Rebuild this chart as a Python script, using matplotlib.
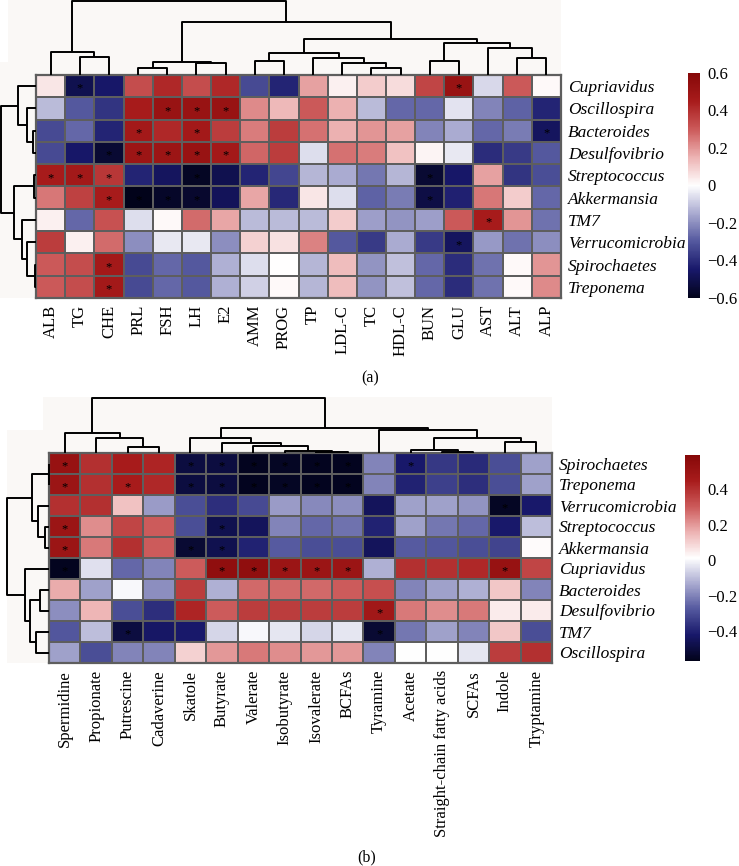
import numpy as np
import matplotlib
matplotlib.use('Agg')
import matplotlib.pyplot as plt
from matplotlib.colors import LinearSegmentedColormap, Normalize
from matplotlib.patches import Rectangle
from matplotlib.cm import ScalarMappable

# ---------------- data: panel (a) ----------------
genera_a = ['Cupriavidus', 'Oscillospira', 'Bacteroides', 'Desulfovibrio', 'Streptococcus',
            'Akkermansia', 'TM7', 'Verrucomicrobia', 'Spirochaetes', 'Treponema']
markers_a = ['ALB', 'TG', 'CHE', 'PRL', 'FSH', 'LH', 'E2', 'AMM', 'PROG', 'TP',
             'LDL-C', 'TC', 'HDL-C', 'BUN', 'GLU', 'AST', 'ALT', 'ALP']
values_a = [
    [0.05, -0.50, -0.45, 0.33, 0.42, 0.33, 0.42, -0.33, -0.42, 0.18, 0.03, 0.10, 0.07, 0.35, 0.52, -0.07, 0.30, 0.01],
    [-0.12, -0.30, -0.38, 0.45, 0.52, 0.52, 0.52, 0.22, 0.14, 0.30, 0.15, -0.12, -0.27, -0.27, -0.05, -0.22, -0.28, -0.42],
    [-0.33, -0.27, -0.42, 0.47, 0.42, 0.47, 0.37, 0.24, 0.37, 0.26, 0.15, 0.20, 0.18, -0.22, -0.15, -0.27, -0.23, -0.47],
    [-0.33, -0.45, -0.55, 0.50, 0.50, 0.52, 0.47, 0.28, 0.37, -0.06, 0.26, 0.24, 0.12, 0.02, -0.04, -0.40, -0.37, -0.30],
    [0.45, 0.47, 0.38, -0.42, -0.47, -0.58, -0.50, -0.42, -0.34, -0.13, -0.15, -0.24, -0.13, -0.55, -0.45, 0.18, -0.38, -0.32],
    [0.25, 0.36, 0.45, -0.60, -0.57, -0.56, -0.48, 0.17, -0.41, 0.05, -0.06, -0.28, -0.23, -0.52, -0.43, 0.25, 0.10, -0.27],
    [0.03, -0.27, 0.32, -0.06, 0.01, 0.27, 0.17, -0.12, -0.12, -0.12, 0.10, -0.17, -0.19, -0.17, 0.30, 0.45, 0.20, -0.25],
    [0.37, 0.03, 0.27, -0.20, -0.04, -0.04, -0.20, 0.09, 0.06, 0.23, -0.30, -0.37, -0.15, -0.37, -0.47, -0.18, -0.25, -0.20],
    [0.30, 0.33, 0.47, -0.33, -0.27, -0.30, -0.14, -0.06, 0.00, -0.13, 0.13, -0.19, -0.11, -0.27, -0.40, -0.25, 0.01, 0.20],
    [0.30, 0.33, 0.47, -0.33, -0.27, -0.30, -0.14, -0.08, 0.01, -0.13, 0.13, -0.19, -0.11, -0.27, -0.40, -0.25, 0.01, 0.22],
]
sig_a = {
    'Cupriavidus': ['TG', 'GLU'],
    'Oscillospira': ['FSH', 'LH', 'E2'],
    'Bacteroides': ['PRL', 'LH', 'ALP'],
    'Desulfovibrio': ['CHE', 'PRL', 'FSH', 'LH', 'E2'],
    'Streptococcus': ['ALB', 'TG', 'CHE', 'LH', 'BUN'],
    'Akkermansia': ['CHE', 'PRL', 'FSH', 'LH', 'BUN'],
    'TM7': ['AST'],
    'Verrucomicrobia': ['GLU'],
    'Spirochaetes': ['CHE'],
    'Treponema': ['CHE'],
}
# dendrogram merges: (child, child, height); ints refer to earlier merges
col_tree_a = [('TG', 'CHE', 18), ('ALB', 0, 23), ('PRL', 'FSH', 7), ('LH', 'E2', 12), (2, 3, 13),
              ('AMM', 'PROG', 14), ('TC', 'HDL-C', 7), ('LDL-C', 6, 12), ('TP', 7, 17), (5, 8, 22),
              ('BUN', 'GLU', 14), ('ALT', 'ALP', 17), ('AST', 11, 27), (10, 12, 32), (9, 13, 36),
              (4, 14, 53), (1, 15, 74)]
row_tree_a = [('Bacteroides', 'Desulfovibrio', 3), ('Oscillospira', 0, 9), ('Cupriavidus', 1, 18),
              ('Streptococcus', 'Akkermansia', 2), ('Spirochaetes', 'Treponema', 1),
              ('Verrucomicrobia', 4, 9), ('TM7', 5, 14), (3, 6, 22), (2, 7, 35)]
ticks_a = [0.6, 0.4, 0.2, 0, -0.2, -0.4, -0.6]

# ---------------- data: panel (b) ----------------
genera_b = ['Spirochaetes', 'Treponema', 'Verrucomicrobia', 'Streptococcus', 'Akkermansia',
            'Cupriavidus', 'Bacteroides', 'Desulfovibrio', 'TM7', 'Oscillospira']
metabolites_b = ['Spermidine', 'Propionate', 'Putrescine', 'Cadaverine', 'Skatole', 'Butyrate',
                 'Valerate', 'Isobutyrate', 'Isovalerate', 'BCFAs', 'Tyramine', 'Acetate',
                 'Straight-chain fatty acids', 'SCFAs', 'Indole', 'Tryptamine']
values_b = [
    [0.52, 0.40, 0.45, 0.43, -0.50, -0.50, -0.56, -0.55, -0.56, -0.56, -0.20, -0.42, -0.35, -0.38, -0.30, -0.15],
    [0.50, 0.40, 0.45, 0.42, -0.50, -0.50, -0.56, -0.55, -0.56, -0.56, -0.20, -0.40, -0.33, -0.37, -0.30, -0.15],
    [0.40, 0.40, 0.13, -0.16, -0.30, -0.37, -0.31, -0.16, -0.19, -0.18, -0.45, -0.15, -0.15, -0.17, -0.55, -0.42],
    [0.50, 0.22, 0.35, 0.30, -0.30, -0.47, -0.45, -0.20, -0.25, -0.23, -0.40, -0.15, -0.22, -0.25, -0.42, -0.10],
    [0.50, 0.25, 0.40, 0.30, -0.52, -0.47, -0.40, -0.27, -0.30, -0.30, -0.45, -0.27, -0.28, -0.30, -0.32, 0.02],
    [-0.56, -0.04, -0.25, -0.20, 0.30, 0.55, 0.55, 0.50, 0.50, 0.50, -0.12, 0.40, 0.40, 0.42, 0.52, 0.35],
    [0.17, -0.15, 0.00, -0.18, 0.37, -0.12, 0.28, 0.28, 0.28, 0.30, 0.33, -0.20, -0.15, -0.12, 0.12, -0.20],
    [-0.18, 0.15, -0.30, -0.37, 0.43, 0.30, 0.37, 0.37, 0.37, 0.37, 0.48, 0.25, 0.22, 0.25, 0.05, 0.05],
    [-0.28, -0.10, -0.50, -0.43, -0.42, -0.06, 0.00, -0.03, -0.06, -0.03, -0.52, -0.22, -0.15, -0.20, 0.12, -0.30],
    [-0.15, -0.30, -0.20, -0.20, 0.10, 0.20, 0.25, 0.22, 0.20, 0.20, -0.20, 0.01, 0.01, -0.03, 0.37, 0.40],
]
sig_b = {
    'Spirochaetes': ['Spermidine', 'Skatole', 'Butyrate', 'Valerate', 'Isobutyrate', 'Isovalerate', 'BCFAs', 'Acetate'],
    'Treponema': ['Spermidine', 'Putrescine', 'Skatole', 'Butyrate', 'Valerate', 'Isobutyrate', 'Isovalerate', 'BCFAs'],
    'Verrucomicrobia': ['Indole'],
    'Streptococcus': ['Spermidine', 'Butyrate'],
    'Akkermansia': ['Spermidine', 'Skatole', 'Butyrate'],
    'Cupriavidus': ['Spermidine', 'Butyrate', 'Valerate', 'Isobutyrate', 'Isovalerate', 'BCFAs', 'Indole'],
    'Desulfovibrio': ['Tyramine'],
    'TM7': ['Putrescine', 'Tyramine'],
}
col_tree_b = [('Putrescine', 'Cadaverine', 5.7), ('Propionate', 0, 14.7), ('Spermidine', 1, 19.7),
              ('Isovalerate', 'BCFAs', 1), ('Isobutyrate', 3, 2), ('Valerate', 4, 7), ('Butyrate', 5, 10),
              ('Skatole', 6, 15), ('Straight-chain fatty acids', 'SCFAs', 1.5), ('Acetate', 8, 3),
              ('Indole', 'Tryptamine', 11), (9, 10, 15), ('Tyramine', 11, 23), (7, 12, 25), (2, 13, 55.5)]
row_tree_b = [('Spirochaetes', 'Treponema', 0.5), ('Streptococcus', 'Akkermansia', 4),
              ('Verrucomicrobia', 1, 11), (0, 2, 17), ('Bacteroides', 'Desulfovibrio', 9),
              ('TM7', 'Oscillospira', 13), (4, 5, 19), ('Cupriavidus', 6, 24), (3, 7, 42)]
ticks_b = [0.4, 0.2, 0, -0.2, -0.4]

# ---------------- styling ----------------
W, H = 739, 866
fig = plt.figure(figsize=(W / 100, H / 100), dpi=100)
fig.patch.set_facecolor('white')

SERIF = ['Liberation Serif', 'DejaVu Serif']
cmap = LinearSegmentedColormap.from_list('rb', [
    (0.0, '#02031A'), (0.125, '#18186A'), (0.25, '#53579E'), (0.375, '#A9AAD0'),
    (0.5, '#FFFFFF'), (0.625, '#EDB3B3'), (0.75, '#CC5A5A'), (0.875, '#A81C1C'), (1.0, '#860808')])
GRID = '#5e5e5e'
BG = '#FAF8F6'


def px_axes(x0, y0, x1, y1, **kw):
    return fig.add_axes([x0 / W, 1 - y1 / H, (x1 - x0) / W, (y1 - y0) / H], **kw)


def bg_rect(x0, y0, x1, y1):
    fig.patches.append(Rectangle((x0 / W, 1 - y1 / H), (x1 - x0) / W, (y1 - y0) / H,
                                 transform=fig.transFigure, facecolor=BG, edgecolor='none', zorder=-10))


def draw_tree(ax, tree, leaves, orient):
    pos = {}
    hts = {}
    for i, name in enumerate(leaves):
        pos[name] = i + 0.5
        hts[name] = 0.0
    for k, (a, b, h) in enumerate(tree):
        pa, pb = pos[a], pos[b]
        ha, hb = hts[a], hts[b]
        if orient == 'top':
            ax.plot([pa, pa, pb, pb], [ha, h, h, hb], color='black', lw=1.4, solid_capstyle='butt',
                    clip_on=False)
        else:
            ax.plot([ha, h, h, hb], [pa, pa, pb, pb], color='black', lw=1.4, solid_capstyle='butt',
                    clip_on=False)
        pos[k] = (pa + pb) / 2
        hts[k] = h
    ax.axis('off')


def heat(box, colbox, rowbox, cbbox, rows, cols, vals, sig, ctree, rtree, vmin, vmax, ticks):
    vals = np.array(vals)
    norm = Normalize(vmin=vmin, vmax=vmax)
    ax = px_axes(*box)
    ax.pcolormesh(vals, cmap=cmap, norm=norm, edgecolors=GRID, linewidth=1.4)
    ax.set_xlim(0, len(cols))
    ax.set_ylim(len(rows), 0)
    for s in ax.spines.values():
        s.set_color(GRID)
        s.set_linewidth(1.6)
    ax.set_xticks(np.arange(len(cols)) + 0.5)
    ax.set_xticklabels(cols, rotation=90, family=SERIF, fontsize=12)
    ax.set_yticks(np.arange(len(rows)) + 0.5)
    ax.set_yticklabels(rows, family=SERIF, style='italic', fontsize=12.5)
    ax.yaxis.tick_right()
    ax.tick_params(length=0, pad=5)
    for r, name in enumerate(rows):
        for c in sig.get(name, []):
            ax.text(cols.index(c) + 0.5, r + 0.62, '*', ha='center', va='center',
                    fontsize=9, color='black', family=SERIF)
    # dendrograms
    cax_d = px_axes(*colbox)
    cax_d.set_xlim(0, len(cols))
    cax_d.set_ylim(0, colbox[3] - colbox[1])
    draw_tree(cax_d, ctree, cols, 'top')
    rax_d = px_axes(*rowbox)
    rax_d.set_ylim(len(rows), 0)
    rax_d.set_xlim(rowbox[2] - rowbox[0], 0)
    draw_tree(rax_d, rtree, rows, 'left')
    # colour bar
    cb_ax = px_axes(*cbbox)
    cb = fig.colorbar(ScalarMappable(norm=norm, cmap=cmap), cax=cb_ax, ticks=ticks)
    cb.outline.set_visible(False)
    cb.ax.tick_params(length=0, pad=5)
    cb.ax.set_yticklabels(['0' if t == 0 else ('%.1f' % t).replace('-', '\u2212') for t in ticks],
                          family=SERIF, fontsize=12)
    return ax


# faint background behind dendrograms
bg_rect(8, 0, 561, 62)
bg_rect(0, 62, 561, 298)
bg_rect(43, 397, 552, 430)
bg_rect(7, 430, 552, 663)

heat((36, 75, 561, 298), (36, 0, 561, 75), (0, 75, 36, 298), (688, 73, 700, 298),
     genera_a, markers_a, values_a, sig_a, col_tree_a, row_tree_a, -0.6, 0.6, ticks_a)
heat((49, 453, 552, 663), (49, 395, 552, 453), (5, 453, 49, 663), (685, 455, 700, 661),
     genera_b, metabolites_b, values_b, sig_b, col_tree_b, row_tree_b, -0.57, 0.595, ticks_b)

fig.text(370 / W, 1 - 378 / H, '(a)', ha='center', va='center', family=SERIF, fontsize=11.5)
fig.text(367 / W, 1 - 857 / H, '(b)', ha='center', va='center', family=SERIF, fontsize=11.5)

fig.savefig('out.png', dpi=100, facecolor='white')
